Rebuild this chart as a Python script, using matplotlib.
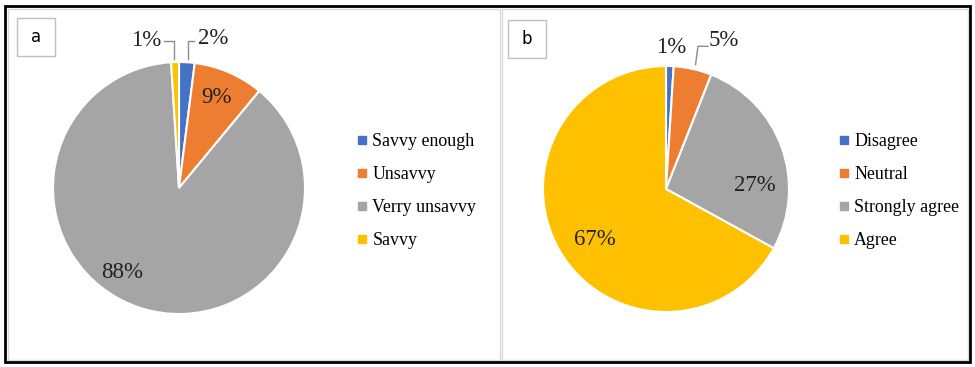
import matplotlib.pyplot as plt
from matplotlib.patches import Rectangle
from matplotlib.lines import Line2D

# survey answers, panel a
savvy_labels = ['Savvy enough', 'Unsavvy', 'Verry unsavvy', 'Savvy']
savvy_values = [2, 9, 88, 1]

# survey answers, panel b
agree_labels = ['Disagree', 'Neutral', 'Strongly agree', 'Agree']
agree_values = [1, 5, 27, 67]

colors = ['#4472C4', '#ED7D31', '#A5A5A5', '#FFC000']

W, H = 975, 367
fig = plt.figure(figsize=(W / 100, H / 100), dpi=100)
serif = 'Liberation Serif'


def px_axes(x0, y0, x1, y1):
    # axes from pixel box (top-left origin)
    return fig.add_axes([x0 / W, 1 - y1 / H, (x1 - x0) / W, (y1 - y0) / H])


def draw_pie(cx, cy, r, values, label_pos, leaders):
    ax = px_axes(cx - r, cy - r, cx + r, cy + r)
    ax.pie(values, colors=colors, startangle=90, counterclock=False,
           radius=1, wedgeprops=dict(edgecolor='white', linewidth=1.5))
    ax.set_xlim(-1, 1)
    ax.set_ylim(-1, 1)
    ax.set_aspect('equal')
    for v, (x, y) in zip(values, label_pos):
        ax.text(x, y, f'{v}%', ha='center', va='center', fontsize=16.5,
                family=serif, color='#222222', clip_on=False)
    for xs, ys in leaders:
        ax.plot(xs, ys, color='#8c8c8c', lw=1, clip_on=False)
    ax.axis('off')
    return ax


def draw_legend(x, y, labels):
    handles = [Line2D([], [], marker='s', ls='none', color=c, markersize=6)
               for c in colors]
    fig.legend(handles, labels, loc='center left',
               bbox_to_anchor=(x / W, 1 - y / H), frameon=False,
               prop=dict(family=serif, size=12.9), handlelength=0.6,
               handletextpad=0.3, labelspacing=0.9, borderaxespad=0)


# panel a
draw_pie(179, 188, 126, savvy_values,
         [(0.27, 1.19), (0.30, 0.72), (-0.45, -0.67), (-0.26, 1.17)],
         [([0.07, 0.07, 0.12], [1.02, 1.17, 1.17]),
          ([-0.04, -0.04, -0.12], [1.02, 1.17, 1.17])])
draw_legend(349, 191, savvy_labels)

# panel b
draw_pie(666, 189, 123, agree_values,
         [(0.04, 1.15), (0.47, 1.21), (0.72, 0.03), (-0.58, -0.41)],
         [([0.24, 0.26, 0.34], [1.01, 1.16, 1.16])])
draw_legend(831, 191, agree_labels)

# panel frames
over = fig.add_axes([0, 0, 1, 1], facecolor='none')
over.set_xlim(0, W)
over.set_ylim(H, 0)
over.axis('off')
over.add_patch(Rectangle((8, 9), 492, 351, fill=False, ec='#d9d9d9', lw=1))
over.add_patch(Rectangle((502, 9), 466, 351, fill=False, ec='#d9d9d9', lw=1))
over.add_patch(Rectangle((5, 6), 965, 356, fill=False, ec='black', lw=2))
for x0, y0, tag in [(17, 18, 'a'), (508, 20, 'b')]:
    over.add_patch(Rectangle((x0, y0), 38, 38, fill=False, ec='#bfbfbf', lw=1))
    over.text(x0 + 19, y0 + 19, tag, ha='center', va='center', fontsize=12,
              family='DejaVu Sans')

fig.savefig('out.png', dpi=100)
